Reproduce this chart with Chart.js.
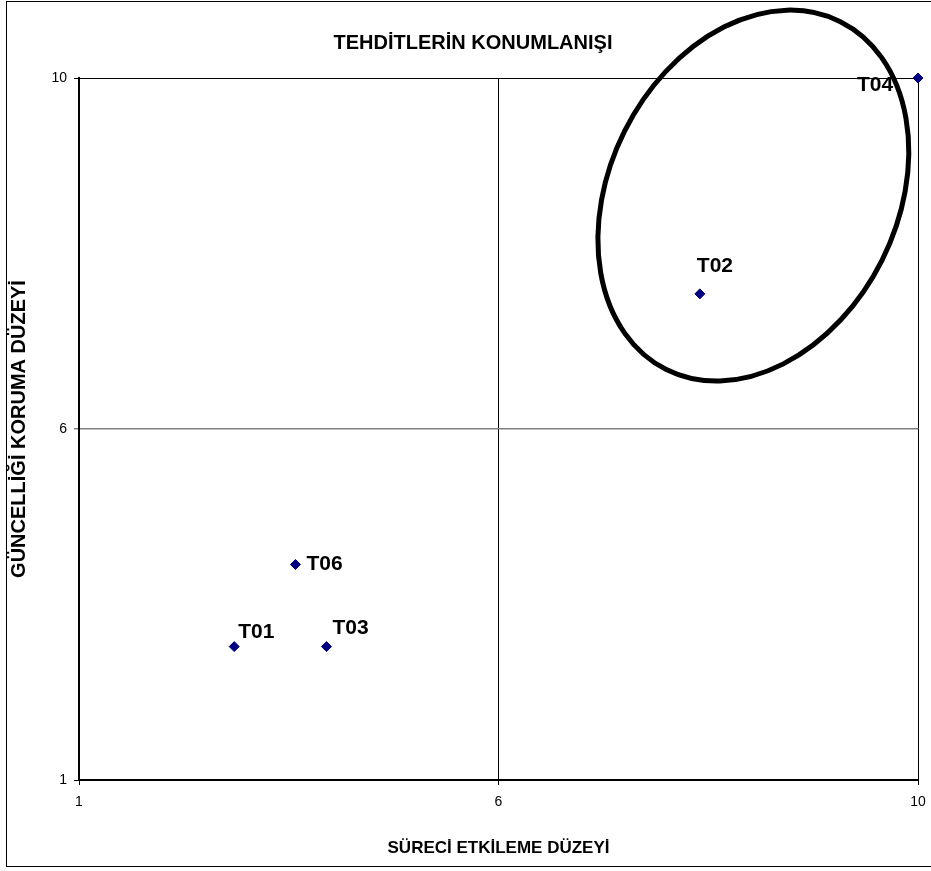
<!DOCTYPE html>
<html>
<head>
<meta charset="utf-8">
<title>Tehditlerin Konumlanışı</title>
<script src="https://cdn.jsdelivr.net/npm/chart.js@4.4.0/dist/chart.umd.min.js"></script>
<style>
    body { margin: 0; background: #fff; }
    #wrap { width: 931px; height: 871px; }
</style>
</head>
<body>
<div id="wrap"><canvas id="threatChart" width="931" height="871"></canvas></div>
<script>
// threat codes and their two scores
const threatNames = ['T01', 'T02', 'T03', 'T04', 'T06'];
const impactLevel = [2.85, 7.92, 3.95, 10, 3.58];   // SÜRECİ ETKİLEME DÜZEYİ
const protectLevel = [2.9, 7.54, 2.9, 10, 4.07];    // GÜNCELLİĞİ KORUMA DÜZEYİ
const axisTicks = [1, 6, 10];                       // min, middle cross line, max

// where each code label sits relative to its marker (px)
const labelOffsets = {
    T01: [4, -14], T02: [-3, -28], T03: [6, -18], T04: [-61, 7], T06: [11, 0]
};

// axis with 1 at one end, 6 in the middle and 10 at the other end
class SplitScale extends Chart.LinearScale {
    buildTicks() {
        this.start = this.min;
        this.end = this.max;
        return axisTicks.map(v => ({ value: v }));
    }
    getPixelForValue(value) {
        const [lo, mid, hi] = axisTicks;
        const dec = value <= mid
            ? (value - lo) / (mid - lo) / 2
            : 0.5 + (value - mid) / (hi - mid) / 2;
        return this.getPixelForDecimal(dec);
    }
    getValueForPixel(pixel) {
        const [lo, mid, hi] = axisTicks;
        const dec = this.getDecimalForPixel(pixel);
        return dec <= 0.5 ? lo + dec * 2 * (mid - lo) : mid + (dec - 0.5) * 2 * (hi - mid);
    }
}
SplitScale.id = 'split';
SplitScale.defaults = Chart.LinearScale.defaults;
Chart.register(SplitScale);

Chart.defaults.font.family = '"Liberation Sans", Arial, sans-serif';
Chart.defaults.color = '#000';

const pointLabels = {
    id: 'pointLabels',
    afterDatasetsDraw(chart) {
        const ctx = chart.ctx;
        const meta = chart.getDatasetMeta(0);
        ctx.save();
        ctx.font = 'bold 21px "Liberation Sans", Arial, sans-serif';
        ctx.fillStyle = '#000';
        ctx.textAlign = 'left';
        ctx.textBaseline = 'middle';
        meta.data.forEach((pt, i) => {
            const name = threatNames[i];
            const off = labelOffsets[name];
            ctx.fillText(name, pt.x + off[0], pt.y + off[1]);
        });
        ctx.restore();
    }
};

const ringAndFrame = {
    id: 'ringAndFrame',
    afterDraw(chart) {
        const { ctx, scales: { x, y } } = chart;
        ctx.save();
        // hand drawn ring around the high group
        ctx.beginPath();
        ctx.ellipse(x.getPixelForValue(8.43), y.getPixelForValue(8.66), 144, 194.5, 0.464, 0, Math.PI * 2);
        ctx.lineWidth = 5;
        ctx.strokeStyle = '#000';
        ctx.stroke();
        // outer frame of the chart object
        ctx.lineWidth = 1;
        ctx.strokeRect(6.5, 1.5, 940, 865);
        ctx.restore();
    }
};

const ctx = document.getElementById('threatChart').getContext('2d');
const threatChart = new Chart(ctx, {
    type: 'scatter',
    data: {
        datasets: [{
            label: 'Tehditler',
            data: threatNames.map((n, i) => ({ x: impactLevel[i], y: protectLevel[i] })),
            backgroundColor: '#000080',
            borderColor: '#000080',
            borderWidth: 1,
            pointStyle: 'rectRot',
            pointRadius: 5,
            pointHoverRadius: 5,
            clip: false
        }]
    },
    options: {
        responsive: false,
        animation: false,
        layout: { padding: { left: 15, right: 0, top: 0, bottom: 0 } },
        plugins: {
            legend: { display: false },
            tooltip: { enabled: false },
            title: {
                display: true,
                text: 'TEHDİTLERİN KONUMLANIŞI',
                color: '#000',
                font: { size: 20, weight: 'bold' },
                padding: { top: 31, bottom: 23 }
            }
        },
        scales: {
            x: {
                type: 'split',
                position: 'bottom',
                min: 1,
                max: 10,
                afterFit: s => { s.height = 91; s.paddingRight = 13; },
                border: { color: '#000', width: 2 },
                grid: { color: '#000', lineWidth: 1, tickLength: 5, tickColor: '#000' },
                ticks: { padding: 9, font: { size: 14 }, color: '#000', callback: v => String(v) },
                title: {
                    display: true,
                    text: 'SÜRECİ ETKİLEME DÜZEYİ',
                    color: '#000',
                    font: { size: 17, weight: 'bold', lineHeight: 1 },
                    padding: { top: 0, bottom: 14 }
                }
            },
            y: {
                type: 'split',
                position: 'left',
                min: 1,
                max: 10,
                afterFit: s => { s.width = 64; },
                border: { color: '#000', width: 2 },
                grid: {
                    color: c => c.tick && c.tick.value === 6 ? '#808080' : '#000',
                    lineWidth: c => c.tick && c.tick.value === 6 ? 1.5 : 1,
                    tickLength: 5
                },
                ticks: { padding: 7, font: { size: 14 }, color: '#000', callback: v => String(v) },
                title: {
                    display: true,
                    text: 'GÜNCELLİĞİ KORUMA DÜZEYİ',
                    color: '#000',
                    font: { size: 20, weight: 'bold', lineHeight: 1 },
                    padding: { top: -6, bottom: 0 }
                }
            }
        }
    },
    plugins: [pointLabels, ringAndFrame]
});
</script>
</body>
</html>
